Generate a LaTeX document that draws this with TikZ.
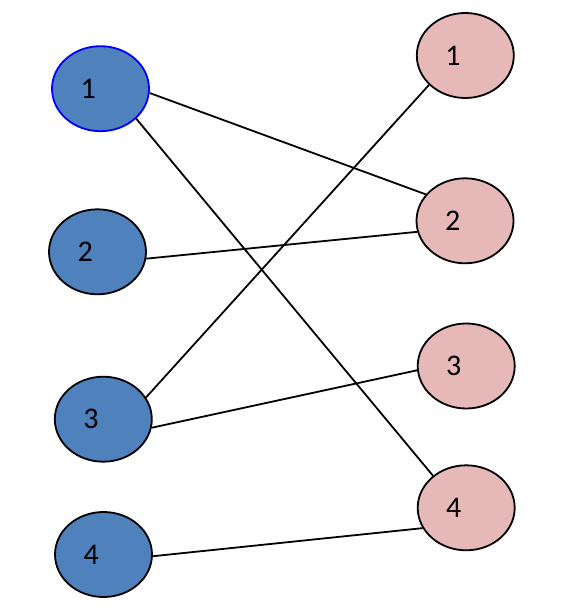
\documentclass[tikz,border=0pt]{standalone}
\usepackage{fontspec}
\setmainfont{Carlito}
\usetikzlibrary{shapes.geometric}
\definecolor{leftfill}{HTML}{4F81BD}
\definecolor{rightfill}{HTML}{E6B9B8}
\newcommand{\vlabel}[1]{\hbox to 40pt{#1\hfil}}
\tikzset{
  vtx/.style={ellipse, draw=black, line width=1.8pt, minimum width=97pt, minimum height=85pt, inner sep=0pt, font=\fontsize{30}{32}\selectfont},
  leftv/.style={vtx, fill=leftfill},
  rightv/.style={vtx, fill=rightfill},
  link/.style={draw=black, line width=1.8pt}
}
\begin{document}
\begin{tikzpicture}[x=1pt,y=-1pt]
\useasboundingbox (0,0) rectangle (580,612);
\node[leftv, draw=blue] (L1) at (100.5,88.7) {\vlabel{1}};
\node[leftv] (L2) at (97.5,251.8) {\vlabel{2}};
\node[leftv] (L3) at (103.3,419.2) {\vlabel{3}};
\node[leftv] (L4) at (103.5,554.5) {\vlabel{4}};
\node[rightv] (R1) at (465.3,55.5) {\vlabel{1}};
\node[rightv] (R2) at (465,220.8) {\vlabel{2}};
\node[rightv] (R3) at (466.2,366) {\vlabel{3}};
\node[rightv] (R4) at (466.2,507.8) {\vlabel{4}};
\draw[link] (L1.-5) -- (R2.146);
\draw[link] (L1.-40) -- (R4.136);
\draw[link] (L2.-8) -- (R2.-167);
\draw[link] (L3.27) -- (R1.-141);
\draw[link] (L3.-10) -- (R3.-175);
\draw[link] (L4.-2) -- (R4.-155);
\end{tikzpicture}
\end{document}
